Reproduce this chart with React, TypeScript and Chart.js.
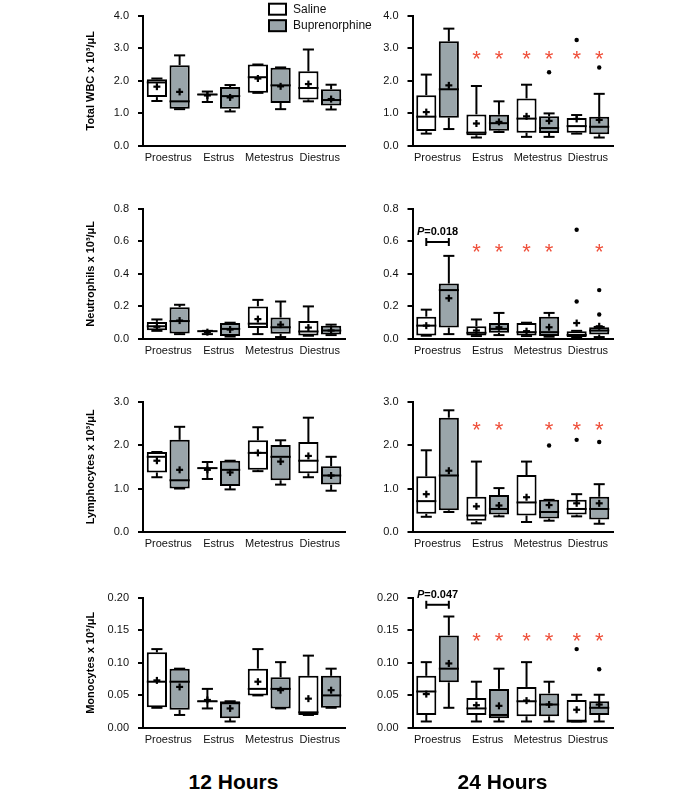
import React, { useEffect, useRef } from 'react';
import { Chart, registerables } from 'chart.js';

Chart.register(...registerables);

const FONT = 'Arial, "Liberation Sans", Helvetica, sans-serif';

const categories = ['Proestrus', 'Estrus', 'Metestrus', 'Diestrus'];
const seriesNames = ['Saline', 'Buprenorphine'];
const hourLabels = ['12 Hours', '24 Hours'];

// Box stats per category: [min, q1, median, q3, max]
// ---- Total WBC ----
const wbc12Saline = [[1.38, 1.5, 1.95, 2.05, 2.07], [1.35, 1.56, 1.58, 1.6, 1.67], [1.63, 1.63, 2.11, 2.5, 2.5], [1.37, 1.43, 1.78, 2.29, 2.96]];
const wbc12SalineMean = [1.82, 1.55, 2.07, 1.9];
const wbc12Bupe = [[1.13, 1.14, 1.37, 2.48, 2.78], [1.06, 1.14, 1.53, 1.81, 1.87], [1.13, 1.32, 1.86, 2.4, 2.41], [1.12, 1.24, 1.41, 1.74, 1.88]];
const wbc12BupeMean = [1.66, 1.49, 1.83, 1.44];
const wbc24Saline = [[0.38, 0.46, 0.9, 1.56, 2.19], [0.26, 0.33, 0.41, 0.97, 1.84], [0.28, 0.41, 0.84, 1.46, 1.88], [0.38, 0.41, 0.61, 0.86, 0.95]];
const wbc24SalineMean = [1.04, 0.69, 0.91, 0.83];
const wbc24SalineOutliers = [[], [], [], [3.25]];
const wbc24Bupe = [[0.52, 0.87, 1.74, 3.21, 3.6], [0.43, 0.47, 0.7, 0.96, 1.37], [0.28, 0.4, 0.55, 0.91, 1.0], [0.26, 0.36, 0.59, 0.9, 1.6]];
const wbc24BupeMean = [1.86, 0.74, 0.77, 0.8];
const wbc24BupeOutliers = [[], [], [2.26], [2.41]];
const wbc24SalineStars = [0, 1, 1, 1];
const wbc24BupeStars = [0, 1, 1, 1];
const wbc24StarLevel = 2.74;

// ---- Neutrophils ----
const neu12Saline = [[0.05, 0.053, 0.078, 0.105, 0.12], [0.03, 0.046, 0.048, 0.05, 0.05], [0.03, 0.068, 0.094, 0.2, 0.24], [0.02, 0.022, 0.046, 0.11, 0.2]];
const neu12SalineMean = [0.075, 0.042, 0.122, 0.07];
const neu12Bupe = [[0.03, 0.034, 0.11, 0.195, 0.21], [0.015, 0.018, 0.062, 0.098, 0.1], [0.012, 0.032, 0.072, 0.132, 0.23], [0.024, 0.028, 0.052, 0.082, 0.088]];
const neu12BupeMean = [0.113, 0.058, 0.088, 0.052];
const neu24Saline = [[0.02, 0.022, 0.082, 0.137, 0.18], [0.018, 0.022, 0.038, 0.078, 0.12], [0.018, 0.022, 0.042, 0.098, 0.1], [0.01, 0.012, 0.025, 0.048, 0.05]];
const neu24SalineMean = [0.082, 0.052, 0.048, 0.098];
const neu24SalineOutliers = [[], [], [], [0.23, 0.67]];
const neu24Bupe = [[0.03, 0.07, 0.3, 0.34, 0.51], [0.024, 0.038, 0.062, 0.098, 0.16], [0.014, 0.018, 0.042, 0.137, 0.16], [0.012, 0.028, 0.052, 0.072, 0.074]];
const neu24BupeMean = [0.25, 0.072, 0.072, 0.078];
const neu24BupeOutliers = [[], [], [], [0.15, 0.3]];
const neu24SalineStars = [0, 1, 1, 0];
const neu24BupeStars = [0, 1, 1, 1];
const neu24StarLevel = 0.55;
const neu24PValue = { category: 0, level: 0.595, text: '=0.018' };

// ---- Lymphocytes ----
const lym12Saline = [[1.26, 1.37, 1.73, 1.84, 1.84], [1.22, 1.46, 1.47, 1.48, 1.61], [1.4, 1.43, 1.82, 2.11, 2.41], [1.26, 1.35, 1.64, 2.07, 2.63]];
const lym12SalineMean = [1.64, 1.43, 1.82, 1.75];
const lym12Bupe = [[1.0, 1.0, 1.19, 2.12, 2.42], [0.98, 1.06, 1.43, 1.64, 1.64], [1.09, 1.19, 1.73, 2.0, 2.11], [0.95, 1.09, 1.3, 1.51, 1.73]];
const lym12BupeMean = [1.43, 1.37, 1.62, 1.3];
const lym24Saline = [[0.35, 0.42, 0.71, 1.28, 1.88], [0.2, 0.26, 0.38, 0.81, 1.62], [0.23, 0.38, 0.68, 1.31, 1.62], [0.36, 0.4, 0.53, 0.74, 0.87]];
const lym24SalineMean = [0.87, 0.59, 0.8, 0.66];
const lym24SalineOutliers = [[], [], [], [2.12]];
const lym24Bupe = [[0.46, 0.5, 1.3, 2.63, 2.8], [0.36, 0.4, 0.53, 0.85, 1.01], [0.26, 0.31, 0.46, 0.74, 0.74], [0.19, 0.29, 0.53, 0.81, 1.1]];
const lym24BupeMean = [1.41, 0.61, 0.62, 0.66];
const lym24BupeOutliers = [[], [], [1.99], [2.07]];
const lym24SalineStars = [0, 1, 0, 1];
const lym24BupeStars = [0, 1, 1, 1];
const lym24StarLevel = 2.4;

// ---- Monocytes ----
const mon12Saline = [[0.031, 0.032, 0.071, 0.116, 0.121], [0.03, 0.04, 0.041, 0.042, 0.06], [0.05, 0.05, 0.06, 0.091, 0.121], [0.02, 0.02, 0.024, 0.08, 0.111]];
const mon12SalineMean = [0.073, 0.043, 0.071, 0.045];
const mon12Bupe = [[0.02, 0.028, 0.071, 0.091, 0.091], [0.01, 0.015, 0.038, 0.041, 0.041], [0.03, 0.03, 0.06, 0.078, 0.101], [0.031, 0.031, 0.05, 0.08, 0.091]];
const mon12BupeMean = [0.063, 0.03, 0.058, 0.058];
const mon24Saline = [[0.01, 0.02, 0.056, 0.08, 0.101], [0.01, 0.02, 0.03, 0.046, 0.071], [0.01, 0.018, 0.041, 0.063, 0.101], [0.01, 0.01, 0.01, 0.043, 0.051]];
const mon24SalineMean = [0.052, 0.035, 0.042, 0.028];
const mon24SalineOutliers = [[], [], [], [0.121]];
const mon24Bupe = [[0.031, 0.07, 0.091, 0.142, 0.171], [0.01, 0.015, 0.02, 0.06, 0.091], [0.01, 0.018, 0.036, 0.053, 0.071], [0.01, 0.02, 0.031, 0.041, 0.051]];
const mon24BupeMean = [0.099, 0.034, 0.036, 0.036];
const mon24BupeOutliers = [[], [], [], [0.09]];
const mon24SalineStars = [0, 1, 1, 1];
const mon24BupeStars = [0, 1, 1, 1];
const mon24StarLevel = 0.138;
const mon24PValue = { category: 0, level: 0.189, text: '=0.047' };

// Axis settings per row
const yTitles = ['Total WBC x 10³/μL', 'Neutrophils x 10³/μL', 'Lymphocytes x 10³/μL', 'Monocytes x 10³/μL'];
const yMaxes = [4, 0.8, 3, 0.2];
const ySteps = [1, 0.2, 1, 0.05];
const yDecimals = [1, 1, 1, 2];

const none = [[], [], [], []];

type Series = { stats: number[][]; mean: number[]; outliers: number[][]; stars?: number[] };
type PanelCfg = {
  row: number;
  col: number;
  saline: Series;
  bupe: Series;
  starLevel?: number;
  pValue?: { category: number; level: number; text: string };
};

const panels: PanelCfg[] = [
  { row: 0, col: 0, saline: { stats: wbc12Saline, mean: wbc12SalineMean, outliers: none }, bupe: { stats: wbc12Bupe, mean: wbc12BupeMean, outliers: none } },
  { row: 0, col: 1, saline: { stats: wbc24Saline, mean: wbc24SalineMean, outliers: wbc24SalineOutliers, stars: wbc24SalineStars }, bupe: { stats: wbc24Bupe, mean: wbc24BupeMean, outliers: wbc24BupeOutliers, stars: wbc24BupeStars }, starLevel: wbc24StarLevel },
  { row: 1, col: 0, saline: { stats: neu12Saline, mean: neu12SalineMean, outliers: none }, bupe: { stats: neu12Bupe, mean: neu12BupeMean, outliers: none } },
  { row: 1, col: 1, saline: { stats: neu24Saline, mean: neu24SalineMean, outliers: neu24SalineOutliers, stars: neu24SalineStars }, bupe: { stats: neu24Bupe, mean: neu24BupeMean, outliers: neu24BupeOutliers, stars: neu24BupeStars }, starLevel: neu24StarLevel, pValue: neu24PValue },
  { row: 2, col: 0, saline: { stats: lym12Saline, mean: lym12SalineMean, outliers: none }, bupe: { stats: lym12Bupe, mean: lym12BupeMean, outliers: none } },
  { row: 2, col: 1, saline: { stats: lym24Saline, mean: lym24SalineMean, outliers: lym24SalineOutliers, stars: lym24SalineStars }, bupe: { stats: lym24Bupe, mean: lym24BupeMean, outliers: lym24BupeOutliers, stars: lym24BupeStars }, starLevel: lym24StarLevel },
  { row: 3, col: 0, saline: { stats: mon12Saline, mean: mon12SalineMean, outliers: none }, bupe: { stats: mon12Bupe, mean: mon12BupeMean, outliers: none } },
  { row: 3, col: 1, saline: { stats: mon24Saline, mean: mon24SalineMean, outliers: mon24SalineOutliers, stars: mon24SalineStars }, bupe: { stats: mon24Bupe, mean: mon24BupeMean, outliers: mon24BupeOutliers, stars: mon24BupeStars }, starLevel: mon24StarLevel, pValue: mon24PValue },
];

// Layout geometry (page pixels)
const COL = [
  { canvasLeft: 80, width: 310, axisX: 143, right: 345 },
  { canvasLeft: 360, width: 270, axisX: 412.5, right: 613 },
];
const ROW_TOPS = [13.3, 205.7, 399.3, 594.7];
const PLOT_H = 133;
const PAD_TOP = 13;
const X_AXIS_H = 28;
const CANVAS_H = PAD_TOP + PLOT_H + X_AXIS_H;

const WHITE = '#ffffff';
const GRAY = '#9aa5aa';
const STAR = '#ef4f3a';

function Panel({ cfg }: { cfg: PanelCfg }) {
  const ref = useRef<HTMLCanvasElement>(null);
  const col = COL[cfg.col];
  const top = ROW_TOPS[cfg.row] - PAD_TOP;

  useEffect(() => {
    if (!ref.current) return;
    const series = [cfg.saline, cfg.bupe];
    const extras = {
      id: 'boxExtras',
      afterDatasetsDraw(chart: any) {
        const ctx = chart.ctx as CanvasRenderingContext2D;
        const ys = chart.scales.y;
        const py = (v: number) => ys.getPixelForValue(v);
        const line = (x1: number, y1: number, x2: number, y2: number) => {
          ctx.beginPath();
          ctx.moveTo(x1, y1);
          ctx.lineTo(x2, y2);
          ctx.stroke();
        };
        ctx.save();
        series.forEach((s, di) => {
          const meta = chart.getDatasetMeta(di);
          meta.data.forEach((bar: any, ci: number) => {
            const st = s.stats[ci];
            const x = bar.x;
            const w = bar.width;
            const cw = w * 0.55;
            ctx.strokeStyle = '#000';
            ctx.lineWidth = 2;
            ctx.lineCap = 'butt';
            // whiskers
            if (st[4] > st[3]) line(x, py(st[3]), x, py(st[4]));
            line(x - cw / 2, py(st[4]), x + cw / 2, py(st[4]));
            if (st[0] < st[1]) line(x, py(st[1]), x, py(st[0]));
            line(x - cw / 2, py(st[0]), x + cw / 2, py(st[0]));
            // median
            line(x - w / 2, py(st[2]), x + w / 2, py(st[2]));
            // mean
            const my = py(s.mean[ci]);
            ctx.lineWidth = 2.2;
            line(x - 3.5, my, x + 3.5, my);
            line(x, my - 3.5, x, my + 3.5);
            // outliers
            ctx.fillStyle = '#000';
            (s.outliers[ci] || []).forEach((o: number) => {
              ctx.beginPath();
              ctx.arc(x, py(o), 2.2, 0, Math.PI * 2);
              ctx.fill();
            });
            // stars
            if (s.stars && s.stars[ci] && cfg.starLevel !== undefined) {
              ctx.fillStyle = STAR;
              ctx.font = `22px ${FONT}`;
              ctx.textAlign = 'center';
              ctx.textBaseline = 'alphabetic';
              ctx.fillText('*', x, py(cfg.starLevel) + 9.5);
            }
          });
        });
        // p-value bracket
        if (cfg.pValue) {
          const b0 = chart.getDatasetMeta(0).data[cfg.pValue.category] as any;
          const b1 = chart.getDatasetMeta(1).data[cfg.pValue.category] as any;
          const yb = py(cfg.pValue.level);
          ctx.strokeStyle = '#000';
          ctx.lineWidth = 2;
          line(b0.x, yb, b1.x, yb);
          line(b0.x, yb - 4, b0.x, yb + 4);
          line(b1.x, yb - 4, b1.x, yb + 4);
          ctx.fillStyle = '#000';
          ctx.textBaseline = 'alphabetic';
          ctx.textAlign = 'left';
          ctx.font = `italic bold 11px ${FONT}`;
          const wP = ctx.measureText('P').width;
          ctx.font = `bold 11px ${FONT}`;
          const wT = ctx.measureText(cfg.pValue.text).width;
          const sx = (b0.x + b1.x) / 2 - (wP + wT) / 2;
          ctx.font = `italic bold 11px ${FONT}`;
          ctx.fillText('P', sx, yb - 7);
          ctx.font = `bold 11px ${FONT}`;
          ctx.fillText(cfg.pValue.text, sx + wP, yb - 7);
        }
        // legend on the first panel
        if (cfg.row === 0 && cfg.col === 0) {
          const ox = col.canvasLeft;
          const oy = top;
          const fills = [WHITE, GRAY];
          seriesNames.forEach((name, i) => {
            const bx = 269 - ox;
            const by = 4 + i * 16.5 - oy;
            ctx.fillStyle = fills[i];
            ctx.fillRect(bx, by, 17, 11);
            ctx.strokeStyle = '#000';
            ctx.lineWidth = 2;
            ctx.strokeRect(bx, by, 17, 11);
            ctx.fillStyle = '#111';
            ctx.font = `12px ${FONT}`;
            ctx.textAlign = 'left';
            ctx.textBaseline = 'middle';
            ctx.fillText(name, 293 - ox, by + 5.5);
          });
        }
        ctx.restore();
      },
    };

    const mkData = (s: Series) => s.stats.map((st) => [st[1], st[3]]);
    const chart = new Chart(ref.current, {
      type: 'bar',
      data: {
        labels: categories,
        datasets: [
          { label: seriesNames[0], data: mkData(cfg.saline) as any, backgroundColor: WHITE, borderColor: '#000', borderWidth: 2, borderSkipped: false, barPercentage: 0.89, categoryPercentage: 0.9 },
          { label: seriesNames[1], data: mkData(cfg.bupe) as any, backgroundColor: GRAY, borderColor: '#000', borderWidth: 2, borderSkipped: false, barPercentage: 0.89, categoryPercentage: 0.9 },
        ],
      },
      options: {
        responsive: false,
        animation: false,
        events: [],
        devicePixelRatio: 1,
        layout: { padding: { top: PAD_TOP, right: col.canvasLeft + col.width - col.right, left: 0, bottom: 0 } },
        plugins: { legend: { display: false }, tooltip: { enabled: false } },
        scales: {
          x: {
            type: 'category',
            grid: { display: false, drawTicks: false, tickLength: 0 },
            border: { display: true, color: '#000', width: 2 },
            ticks: { color: '#111', font: { family: FONT, size: 11 }, padding: 5, maxRotation: 0, autoSkip: false },
            afterFit: (s: any) => { s.height = X_AXIS_H; },
          },
          y: {
            min: 0,
            max: yMaxes[cfg.row],
            ticks: {
              stepSize: ySteps[cfg.row],
              color: '#111',
              font: { family: FONT, size: 11 },
              padding: 9,
              callback: (v: any) => Number(v).toFixed(yDecimals[cfg.row]),
            },
            grid: { drawOnChartArea: false, drawTicks: true, tickLength: 5, color: '#000', lineWidth: 2 },
            border: { display: true, color: '#000', width: 2 },
            title: {
              display: cfg.col === 0,
              text: yTitles[cfg.row],
              color: '#000',
              font: { family: FONT, size: 11, weight: 'bold' },
              padding: { top: 4, bottom: 0 },
            },
            afterFit: (s: any) => { s.width = col.axisX - col.canvasLeft; },
          },
        },
      } as any,
      plugins: [extras],
    });
    return () => chart.destroy();
  }, []);

  return (
    <canvas
      ref={ref}
      width={col.width}
      height={CANVAS_H}
      style={{ position: 'absolute', left: col.canvasLeft, top, width: col.width, height: CANVAS_H }}
    />
  );
}

export default function App() {
  const hourCenters = [233.5, 502.5];
  return (
    <div style={{ position: 'absolute', left: 0, top: 0, width: 700, height: 795, background: '#fff', overflow: 'hidden' }}>
      {panels.map((p, i) => (
        <Panel key={i} cfg={p} />
      ))}
      {hourLabels.map((t, i) => (
        <div
          key={t}
          style={{
            position: 'absolute',
            left: hourCenters[i] - 100,
            top: 770,
            width: 200,
            lineHeight: '24px',
            textAlign: 'center',
            fontFamily: FONT,
            fontWeight: 'bold',
            fontSize: 21,
            color: '#000',
          }}
        >
          {t}
        </div>
      ))}
    </div>
  );
}
